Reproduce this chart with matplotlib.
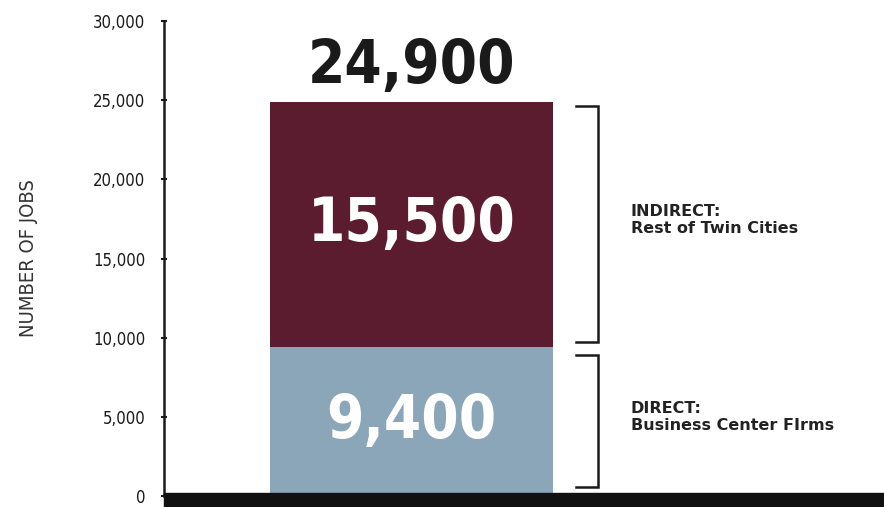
import matplotlib
matplotlib.use("Agg")
import matplotlib.pyplot as plt
from matplotlib.patches import Rectangle

# data
segments = ["DIRECT", "INDIRECT"]
values = [9400, 15500]
seg_labels = ["9,400", "15,500"]
total_label = "24,900"
notes = ["DIRECT:\nBusiness Center FIrms", "INDIRECT:\nRest of Twin Cities"]
colors = ["#8ba5b9", "#5c1c30"]
yticks = [0, 5000, 10000, 15000, 20000, 25000, 30000]

plt.rcParams['font.family'] = ['DejaVu Sans']
plt.rcParams['font.stretch'] = 'condensed'

fig = plt.figure(figsize=(8.84, 5.07), dpi=100)
ax = fig.add_axes([164 / 884, 11 / 507, 720 / 884, 475 / 507])
ax.set_xlim(0, 1)
ax.set_ylim(0, 30000)

bx = 0.344
bw = 0.393
bottom = 0
for v, c, lab in zip(values, colors, seg_labels):
    ax.bar(bx, v, width=bw, bottom=bottom, color=c, edgecolor='none')
    ax.text(bx, bottom + v / 2, lab, ha='center', va='center', color='white',
            fontsize=43, fontweight='bold', fontstretch='condensed')
    bottom += v

ax.text(bx, sum(values) + 350, total_label, ha='center', va='bottom',
        color='#1a1a1a', fontsize=43, fontweight='bold', fontstretch='condensed')

# brackets
bl, br = 0.572, 0.603
bottom = 0
for i, (v, note) in enumerate(zip(values, notes)):
    lo = bottom + (600 if i == 0 else 350)
    hi = bottom + v - (500 if i == 0 else 250)
    ax.plot([bl, br, br, bl], [lo, lo, hi, hi], color='#1a1a1a', lw=1.8,
            clip_on=False, solid_joinstyle='miter')
    mid = bottom + v / 2
    ax.text(0.648, mid + 300, note, ha='left', va='center',
            fontsize=11.5, fontweight='bold', fontstretch='normal',
            color='#222222', linespacing=1.2)
    bottom += v

ax.spines[['top', 'right', 'bottom']].set_visible(False)
ax.spines['left'].set_linewidth(1.8)
ax.spines['left'].set_color('#1a1a1a')
ax.set_xticks([])
ax.set_yticks(yticks)
ax.set_yticklabels([f"{t:,}" for t in yticks])
ax.tick_params(axis='y', direction='inout', length=5, width=1.5, pad=11,
               labelsize=12, colors='#1a1a1a')
ax.set_ylabel("NUMBER OF JOBS", fontsize=14.5, color='#333333')
ax.yaxis.set_label_coords(-(164 - 38) / 720, 0.5)

# thick baseline
fig.patches.append(Rectangle((164 / 884, 0), 720 / 884, 14 / 507,
                             transform=fig.transFigure, color='#111111'))

fig.savefig("out.png", dpi=100)
